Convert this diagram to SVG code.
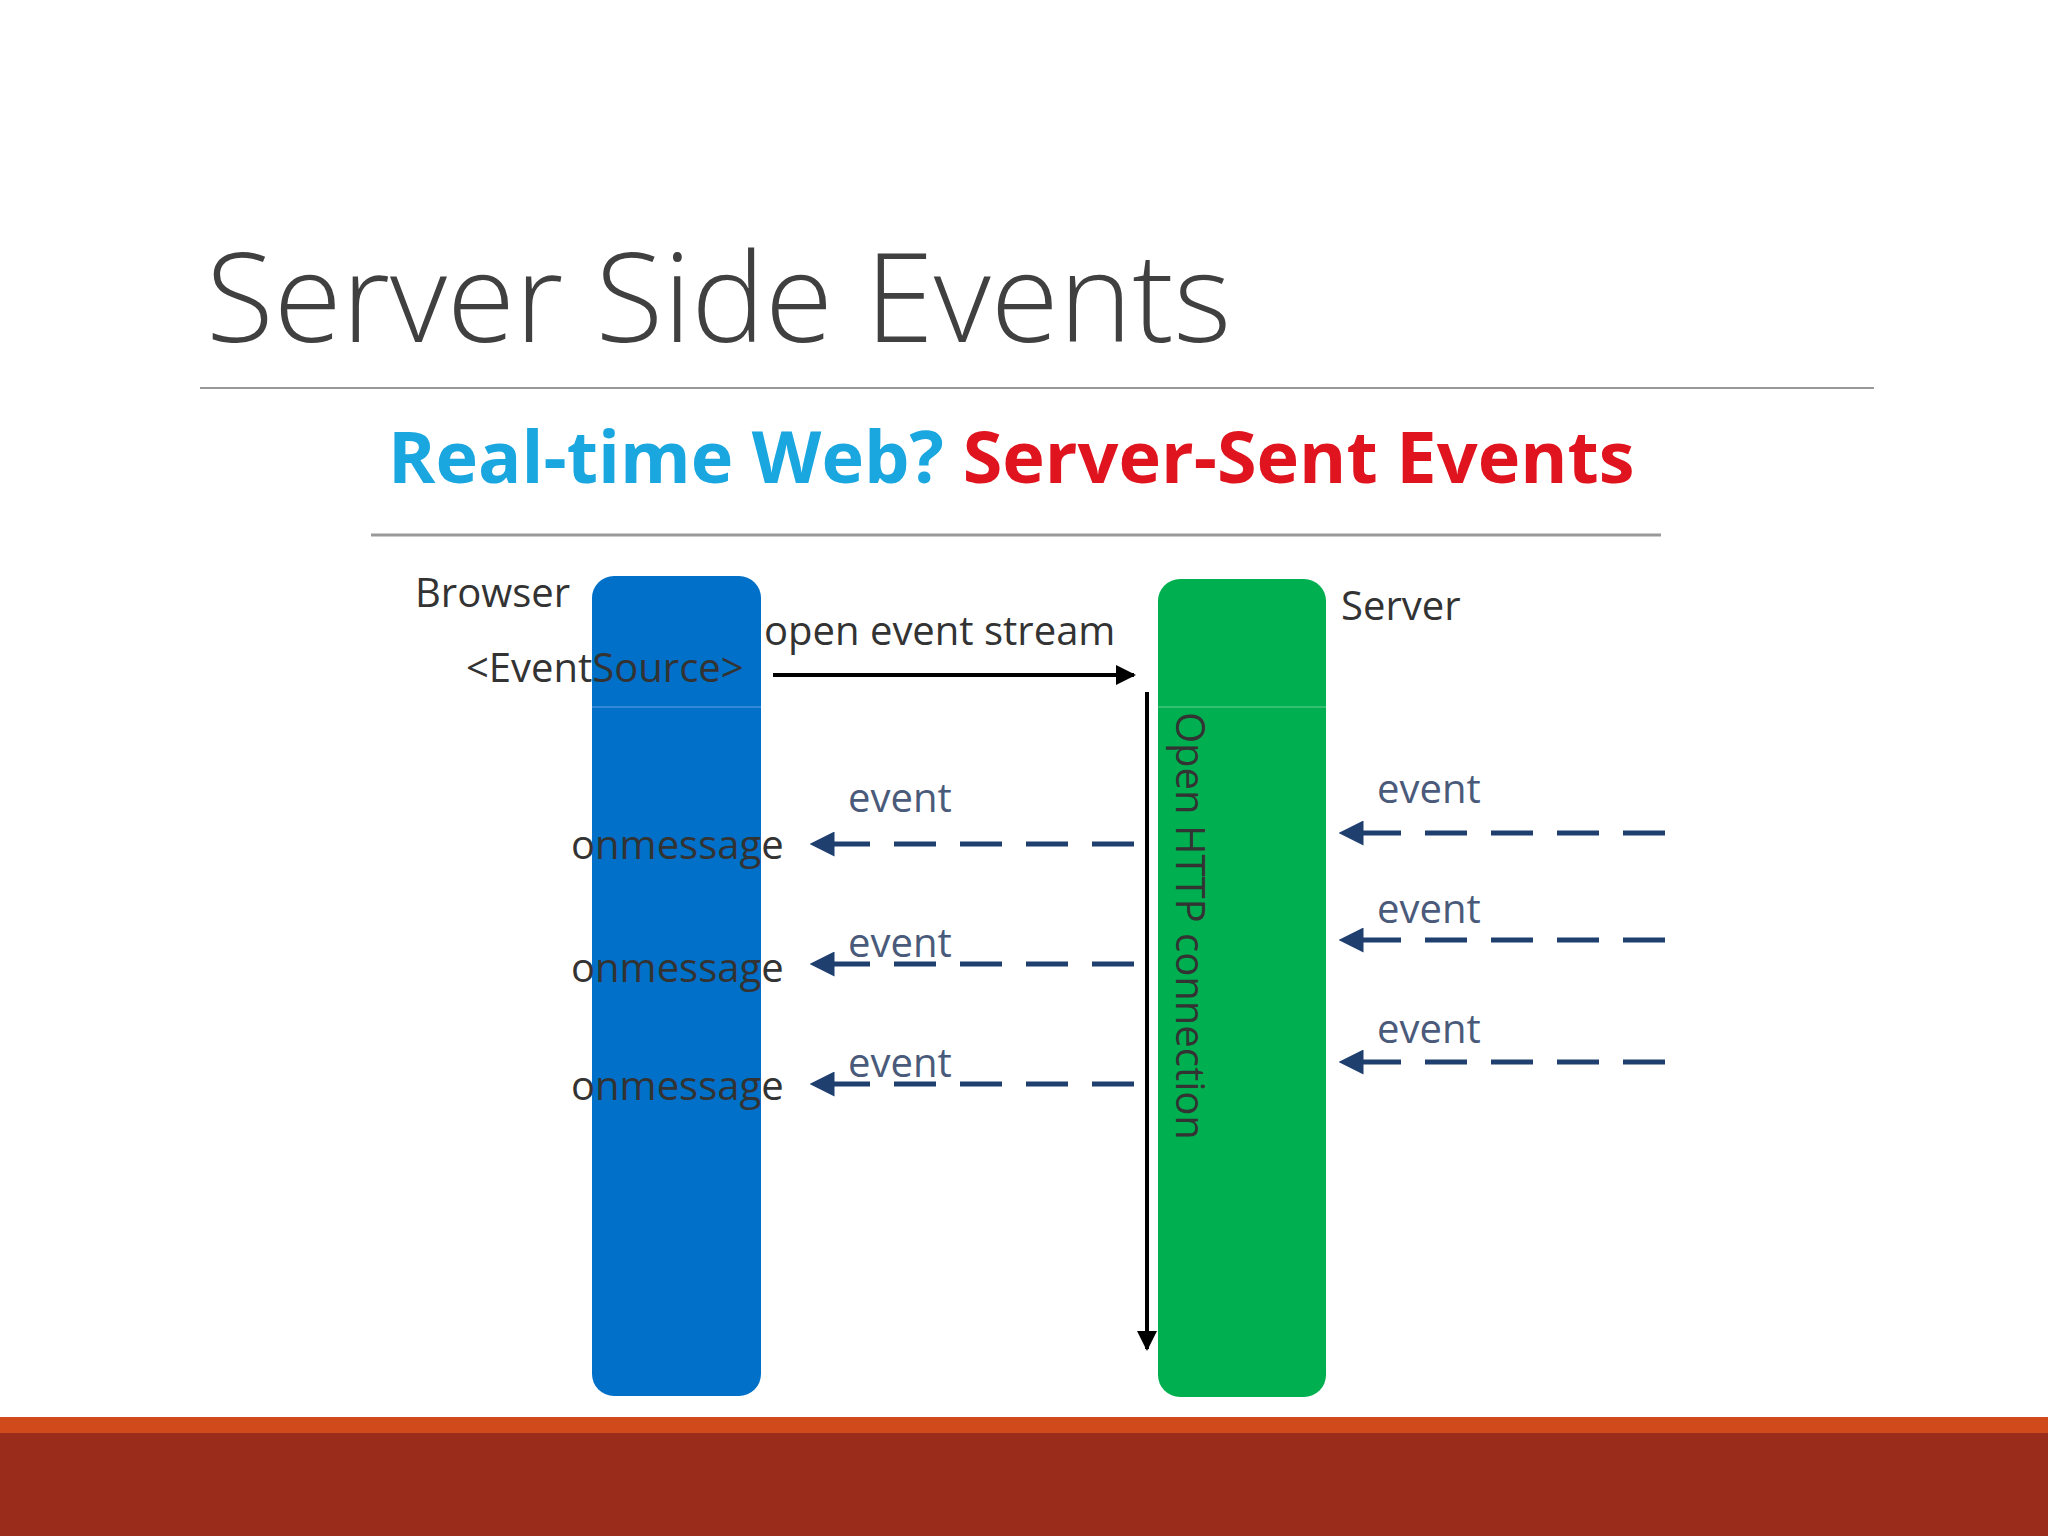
<svg xmlns="http://www.w3.org/2000/svg" width="2048" height="1536" viewBox="0 0 2048 1536">
<defs>
<style>
.t{font-family:"Open Sans","Liberation Sans",sans-serif;}
.lbl{font-family:"Open Sans","Liberation Sans",sans-serif;font-size:40px;fill:#333;}
.ev{font-family:"Open Sans","Liberation Sans",sans-serif;font-size:40px;fill:#4a5a7a;}
.dash{stroke:#1f3f6e;stroke-width:5;stroke-dasharray:42,24;fill:none;}
</style>
<marker id="ah" viewBox="0 0 10 10" refX="9" refY="5" markerWidth="5" markerHeight="5" orient="auto"><path d="M0,0L10,5L0,10z" fill="#000"/></marker>
<marker id="ahb" viewBox="0 0 10 10" refX="9" refY="5" markerWidth="5" markerHeight="5" orient="auto"><path d="M0,0L10,5L0,10z" fill="#1f3f6e"/></marker>
</defs>
<rect width="2048" height="1536" fill="#fff"/>
<text class="t" x="206" y="342" font-size="124" font-weight="300" fill="#404040">Server Side Events</text>
<line x1="200" y1="388" x2="1874" y2="388" stroke="#999" stroke-width="2"/>
<text class="t" x="388" y="483" font-size="72" font-weight="bold"><tspan fill="#1aa7e0">Real-time Web? </tspan><tspan fill="#e0141e">Server-Sent Events</tspan></text>
<line x1="371" y1="535" x2="1661" y2="535" stroke="#999" stroke-width="3"/>
<g id="browser">
<rect x="592" y="576" width="169" height="820" rx="22" fill="#0070c8"/>
<line x1="592" y1="707" x2="761" y2="707" stroke="#3388d8" stroke-width="2"/>
<text class="lbl" x="415" y="607">Browser</text>
<text class="lbl" x="466" y="682">&lt;EventSource&gt;</text>
<text class="lbl" x="571" y="859">onmessage</text>
<text class="lbl" x="571" y="982">onmessage</text>
<text class="lbl" x="571" y="1100">onmessage</text>
</g>
<g id="server">
<rect x="1158" y="579" width="168" height="818" rx="22" fill="#00b050"/>
<line x1="1158" y1="707" x2="1326" y2="707" stroke="#33c070" stroke-width="2"/>
<text class="lbl" x="1341" y="620">Server</text>
<text class="lbl" transform="translate(1176,712) rotate(90)">Open HTTP connection</text>
</g>
<g id="connectors">
<line x1="773" y1="675" x2="1134" y2="675" stroke="#000" stroke-width="4" marker-end="url(#ah)"/>
<text class="lbl" x="764" y="645">open event stream</text>
<line x1="1147" y1="692" x2="1147" y2="1349" stroke="#000" stroke-width="4" marker-end="url(#ah)"/>
<line class="dash" x1="1134" y1="844" x2="812" y2="844" marker-end="url(#ahb)"/>
<line class="dash" x1="1134" y1="964" x2="812" y2="964" marker-end="url(#ahb)"/>
<line class="dash" x1="1134" y1="1084" x2="812" y2="1084" marker-end="url(#ahb)"/>
<line class="dash" x1="1665" y1="833" x2="1341" y2="833" marker-end="url(#ahb)"/>
<line class="dash" x1="1665" y1="940" x2="1341" y2="940" marker-end="url(#ahb)"/>
<line class="dash" x1="1665" y1="1062" x2="1341" y2="1062" marker-end="url(#ahb)"/>
<text class="ev" x="848" y="812">event</text>
<text class="ev" x="848" y="957">event</text>
<text class="ev" x="848" y="1077">event</text>
<text class="ev" x="1377" y="803">event</text>
<text class="ev" x="1377" y="923">event</text>
<text class="ev" x="1377" y="1043">event</text>
</g>
<rect x="0" y="1417" width="2048" height="16" fill="#d04a1c"/>
<rect x="0" y="1433" width="2048" height="103" fill="#9a2c1c"/>
</svg>
